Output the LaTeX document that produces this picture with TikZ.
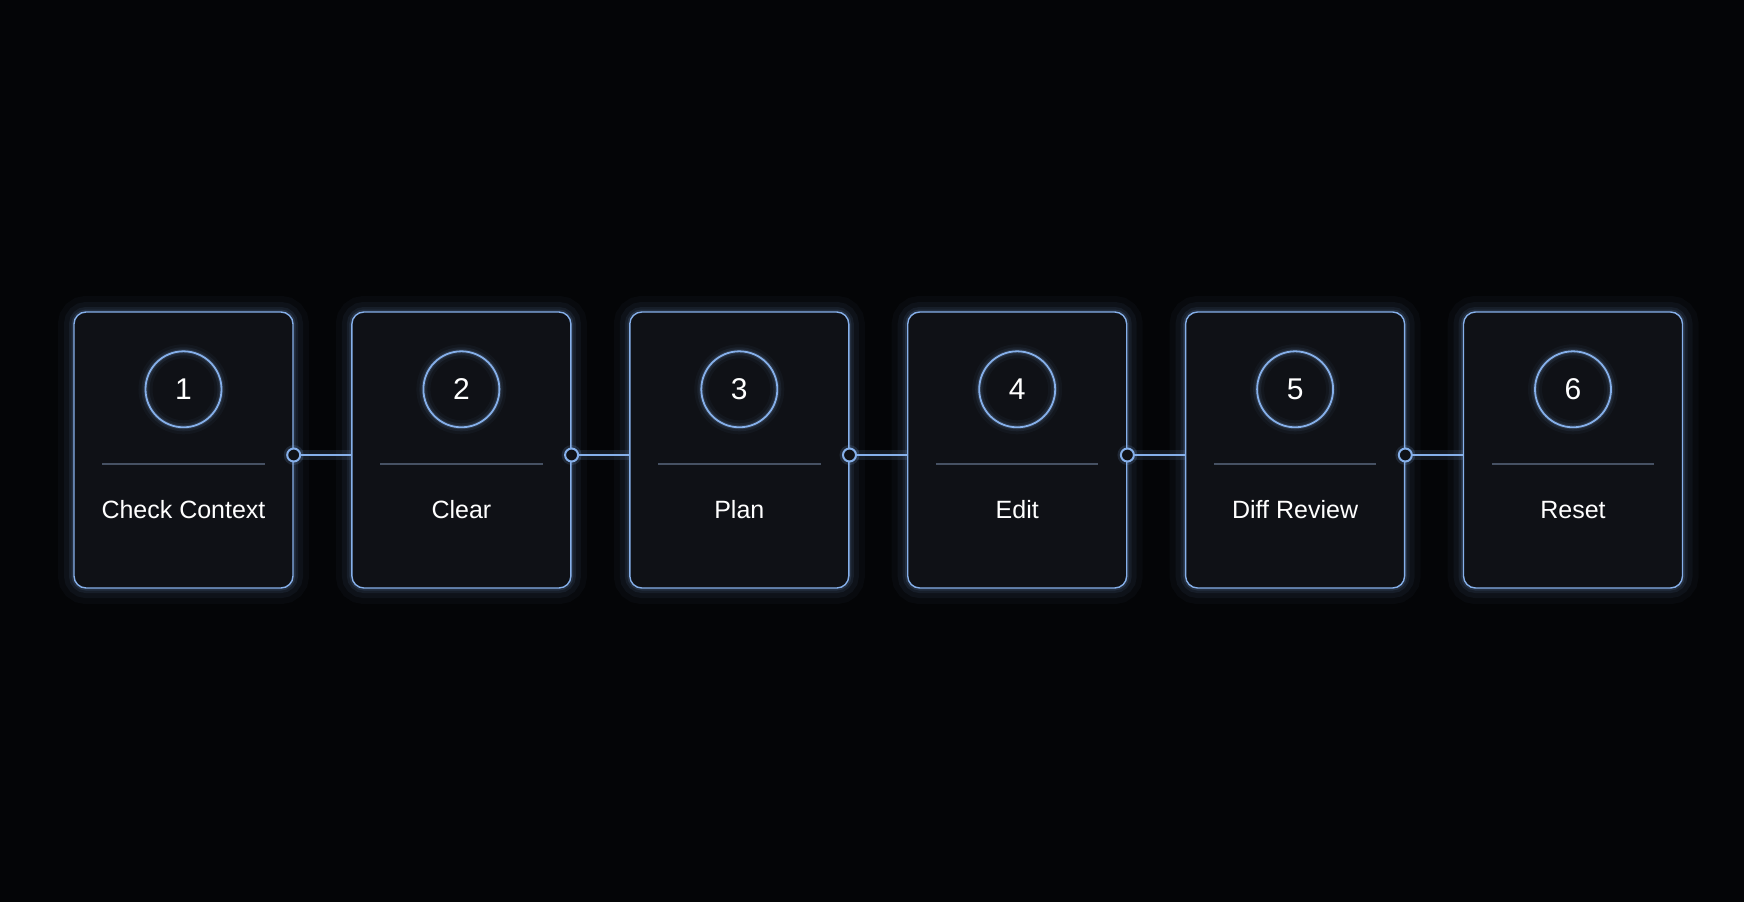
\documentclass[tikz,border=0pt]{standalone}
\usepackage{fontspec}
\setmainfont{Liberation Sans}
\usepackage{xcolor}
\usetikzlibrary{calc}
\definecolor{bg}{HTML}{040507}
\definecolor{cardfill}{HTML}{0F1116}
\definecolor{edge}{HTML}{86B0EA}
\definecolor{rulecol}{HTML}{465163}
\tikzstyle{card}=[draw=edge, fill=cardfill, rounded corners=6pt, line width=0.7pt, minimum width=109.5pt, minimum height=138pt, inner sep=0pt]
\tikzstyle{num}=[circle, draw=edge, line width=0.9pt, minimum size=38pt, inner sep=0pt, text=white, font=\fontsize{15}{17}\selectfont]
\tikzstyle{lab}=[text=white, font=\fontsize{12.5}{15}\selectfont]
\tikzstyle{dot}=[circle, draw=edge, fill=cardfill, line width=1pt, minimum size=6.5pt, inner sep=0pt]

\begin{document}
\begin{tikzpicture}[x=0.5pt,y=0.5pt]
\fill[bg] (0,0) rectangle (1744,902);
\useasboundingbox (0,0) rectangle (1744,902);
\foreach \i/\lab in {1/Check Context,2/Clear,3/Plan,4/Edit,5/Diff Review,6/Reset} {
	\pgfmathsetmacro\x{183.5+(\i-1)*277.9}
	% soft glow round the card
	\foreach \w/\o in {16/0.03,10/0.05,5/0.08,2.5/0.12}
		\draw[edge, line width=\w pt, opacity=\o, rounded corners=6pt] (\x-109.5,314) rectangle (\x+109.5,590);
	\node[card] (c\i) at (\x,452) {};
	\foreach \w/\o in {7/0.04,4/0.08,2/0.14}
		\draw[edge, line width=\w pt, opacity=\o] ($(c\i.north)+(0,-78)$) circle (38);
	\node[num] (n\i) at ($(c\i.north)+(0,-78)$) {\i};
	\draw[rulecol, line width=0.6pt] ($(c\i.west)+(29,-14)$) -- ($(c\i.east)+(-29,-14)$);
	\node[lab] (t\i) at ($(c\i.center)+(0,-60)$) {\lab};
}
\foreach \i/\j in {1/2,2/3,3/4,4/5,5/6} {
	\coordinate (e\i) at ($(c\i.east)+(0,-5)$);
	\draw[edge, line width=5pt, opacity=0.12] (e\i) -- (e\i -| c\j.west);
	\draw[edge, line width=1.4pt] (e\i) -- (e\i -| c\j.west);
	\fill[edge, opacity=0.15] (e\i) circle (10);
	\node[dot] (d\i) at (e\i) {};
}
\end{tikzpicture}
\end{document}
